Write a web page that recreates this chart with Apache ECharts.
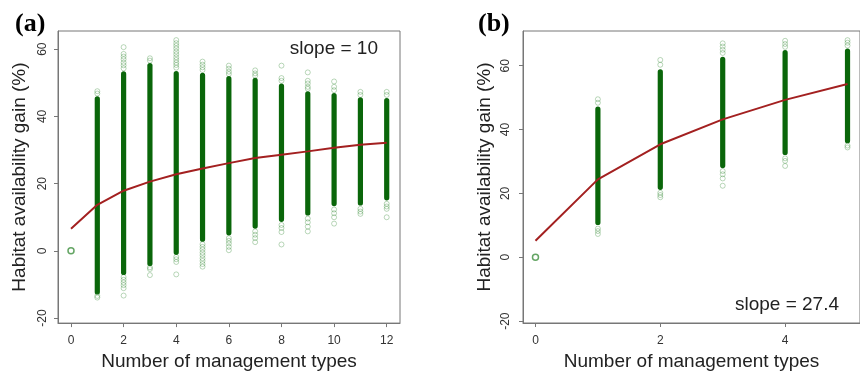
<!DOCTYPE html>
<html>
<head>
<meta charset="utf-8">
<script src="https://cdn.jsdelivr.net/npm/echarts@6/dist/echarts.min.js"></script>
<style>
  html, body { margin: 0; padding: 0; background: #fff; }
  #main { width: 860px; height: 376px; }
</style>
</head>
<body>
<div id="main"></div>
<script>
// ---- panel (a): 0..12 management types ----
const aTypes = [1, 2, 3, 4, 5, 6, 7, 8, 9, 10, 11, 12];
const aCoreLow = [-13, -7.2, -4.5, -1.2, 2.7, 4.6, 6.6, 8.6, 10.5, 13.3, 13.5, 15];
const aCoreHigh = [46, 53.4, 55.9, 53.5, 53, 52, 51.5, 49.8, 47.5, 47, 45.7, 45.5];
// loose circles above / below the dense stripe
const aTop = [
  [47.5, 46.8],
  [60.6, 58.6, 57.8, 57, 56, 55.2, 54.3],
  [57.3, 56.6],
  [62.7, 61.8, 61, 60.2, 59.3, 58.5, 57.6, 56.8, 56, 55.3, 54.5],
  [56.3, 55.4, 54.6, 53.8],
  [55.1, 54.2, 53.3, 52.6],
  [53.7, 52.8, 52.1],
  [55.1, 51.4, 50.6],
  [53.1, 50.6, 49.8, 48.8, 48.2],
  [50.4, 48.8, 47.8],
  [47.3, 46.4],
  [47.3, 46.4],
];
const aBottom = [
  [-13.4, -13.9],
  [-7.8, -8.6, -9.4, -10.2, -11.1, -13.3],
  [-4.9, -5.4, -7.2],
  [-1.8, -2.5, -3.3, -7],
  [2, 1.2, 0.4, -0.5, -1.3, -2.2, -3, -3.9, -4.7],
  [3.8, 3, 2.2, 1.2, 0.2],
  [5.8, 4.8, 3.8, 2.6],
  [7.7, 6.8, 5.6, 1.9],
  [9.6, 8.5, 7.2, 5.8],
  [12.3, 11.2, 10, 8.1],
  [12.5, 11.7, 11],
  [14, 13.2, 12.5, 10],
];
const aFitX = [0, 1, 2, 3, 4, 5, 6, 7, 8, 9, 10, 11, 12];
const aFit = [6.6, 13.7, 17.9, 20.6, 22.8, 24.5, 26.1, 27.6, 28.6, 29.6, 30.7, 31.6, 32.2];
const aXTicks = [0, 2, 4, 6, 8, 10, 12];

// ---- panel (b): 0..5 management types ----
const bTypes = [1, 2, 3, 4, 5];
const bCoreLow = [10.1, 21.1, 27.9, 32, 35.7];
const bCoreHigh = [47.2, 58.9, 62.8, 64.9, 65.4];
const bTop = [
  [49.5, 48.4],
  [61.8, 60.3],
  [67, 66, 65, 64],
  [67.8, 66.8, 65.9],
  [68, 67.2, 66.3],
];
const bBottom = [
  [9, 8.2, 7.3],
  [20.2, 19.5, 18.8],
  [27, 26, 24.7, 22.4],
  [31, 30.2, 28.6],
  [35, 34.4],
];
const bFitX = [0, 1, 2, 3, 4, 5];
const bFit = [5.2, 24.4, 35.4, 43.2, 49.3, 54.3];
const bXTicks = [0, 2, 4];

// no management -> no gain (one point at the origin in both panels)
const zeroPoint = [[0, 0]];
const yTicks = [-20, 0, 20, 40, 60];

const FONT = "Liberation Sans, Arial, sans-serif";
const AXIS_GREY = "#777";

function looseCircles(types, top, bottom) {
  const pts = [];
  types.forEach((x, i) => {
    top[i].forEach((y) => pts.push([x, y]));
    bottom[i].forEach((y) => pts.push([x, y]));
  });
  return pts;
}

function renderCore(params, api) {
  const hi = api.coord([api.value(0), api.value(2)]);
  const lo = api.coord([api.value(0), api.value(1)]);
  return {
    type: "rect",
    shape: { x: hi[0] - 2.6, y: hi[1], width: 5.2, height: lo[1] - hi[1], r: 2.6 },
    style: { fill: "#0a660a" },
  };
}

function xAxis(idx, min, max, ticks) {
  return {
    type: "value",
    gridIndex: idx,
    min: min,
    max: max,
    name: "Number of management types",
    nameLocation: "middle",
    nameGap: 28,
    nameTextStyle: { fontSize: 19, color: "#222", fontFamily: FONT },
    splitLine: { show: false },
    axisLine: { show: true, onZero: false, lineStyle: { color: AXIS_GREY } },
    axisTick: { show: true, customValues: ticks, length: 4, lineStyle: { color: AXIS_GREY } },
    axisLabel: { customValues: ticks, fontSize: 12, color: "#333", fontFamily: FONT, margin: 12 },
  };
}

function yAxis(idx, min, max, margin) {
  return {
    type: "value",
    gridIndex: idx,
    min: min,
    max: max,
    name: "Habitat availability gain (%)",
    nameLocation: "middle",
    nameRotate: 90,
    nameGap: 29,
    nameTextStyle: { fontSize: 19, color: "#222", fontFamily: FONT },
    splitLine: { show: false },
    axisLine: { show: true, onZero: false, lineStyle: { color: AXIS_GREY } },
    axisTick: { show: true, customValues: yTicks, length: 4, lineStyle: { color: AXIS_GREY } },
    axisLabel: { customValues: yTicks, rotate: 90, fontSize: 12, color: "#333", fontFamily: FONT, margin: margin },
  };
}

function panelSeries(idx, types, low, high, top, bottom, fitX, fit) {
  return [
    {
      type: "custom",
      xAxisIndex: idx,
      yAxisIndex: idx,
      renderItem: renderCore,
      encode: { x: 0, y: [1, 2] },
      data: types.map((x, i) => [x, low[i], high[i]]),
      z: 2,
    },
    {
      type: "scatter",
      xAxisIndex: idx,
      yAxisIndex: idx,
      symbol: "circle",
      symbolSize: 5,
      itemStyle: { color: "rgba(255,255,255,0)", borderColor: "rgba(40,130,40,0.4)", borderWidth: 1 },
      data: looseCircles(types, top, bottom),
      z: 3,
    },
    {
      type: "scatter",
      xAxisIndex: idx,
      yAxisIndex: idx,
      symbol: "circle",
      symbolSize: 6,
      itemStyle: { color: "rgba(255,255,255,0)", borderColor: "#3d8f3d", borderWidth: 1.5 },
      data: zeroPoint,
      z: 3,
    },
    {
      type: "line",
      xAxisIndex: idx,
      yAxisIndex: idx,
      symbol: "none",
      lineStyle: { color: "#a32020", width: 2 },
      data: fitX.map((x, i) => [x, fit[i]]),
      z: 4,
    },
  ];
}

const chart = echarts.init(document.getElementById("main"));

const option = {
  animation: false,
  grid: [
    { left: 58, top: 31, width: 342, height: 294, show: true, borderColor: AXIS_GREY, borderWidth: 1 },
    { left: 523, top: 31, width: 340, height: 292, show: true, borderColor: AXIS_GREY, borderWidth: 1 },
  ],
  xAxis: [xAxis(0, -0.494, 12.505, aXTicks), xAxis(1, -0.2, 5.2, bXTicks)],
  yAxis: [yAxis(0, -21.49, 65.41, 9), yAxis(1, -20.58, 70.87, 11)],
  graphic: [
    { type: "text", left: 15, top: 11, style: { text: "(a)", font: "bold 26px 'Liberation Serif', serif", fill: "#000" } },
    { type: "text", left: 478, top: 11, style: { text: "(b)", font: "bold 26px 'Liberation Serif', serif", fill: "#000" } },
    { type: "text", x: 378, y: 49, style: { text: "slope = 10", font: "19px " + FONT, fill: "#222", textAlign: "right", textVerticalAlign: "middle" } },
    { type: "text", x: 839, y: 305, style: { text: "slope = 27.4", font: "19px " + FONT, fill: "#222", textAlign: "right", textVerticalAlign: "middle" } },
  ],
  series: [
    ...panelSeries(0, aTypes, aCoreLow, aCoreHigh, aTop, aBottom, aFitX, aFit),
    ...panelSeries(1, bTypes, bCoreLow, bCoreHigh, bTop, bBottom, bFitX, bFit),
  ],
};

chart.setOption(option);
</script>
</body>
</html>
